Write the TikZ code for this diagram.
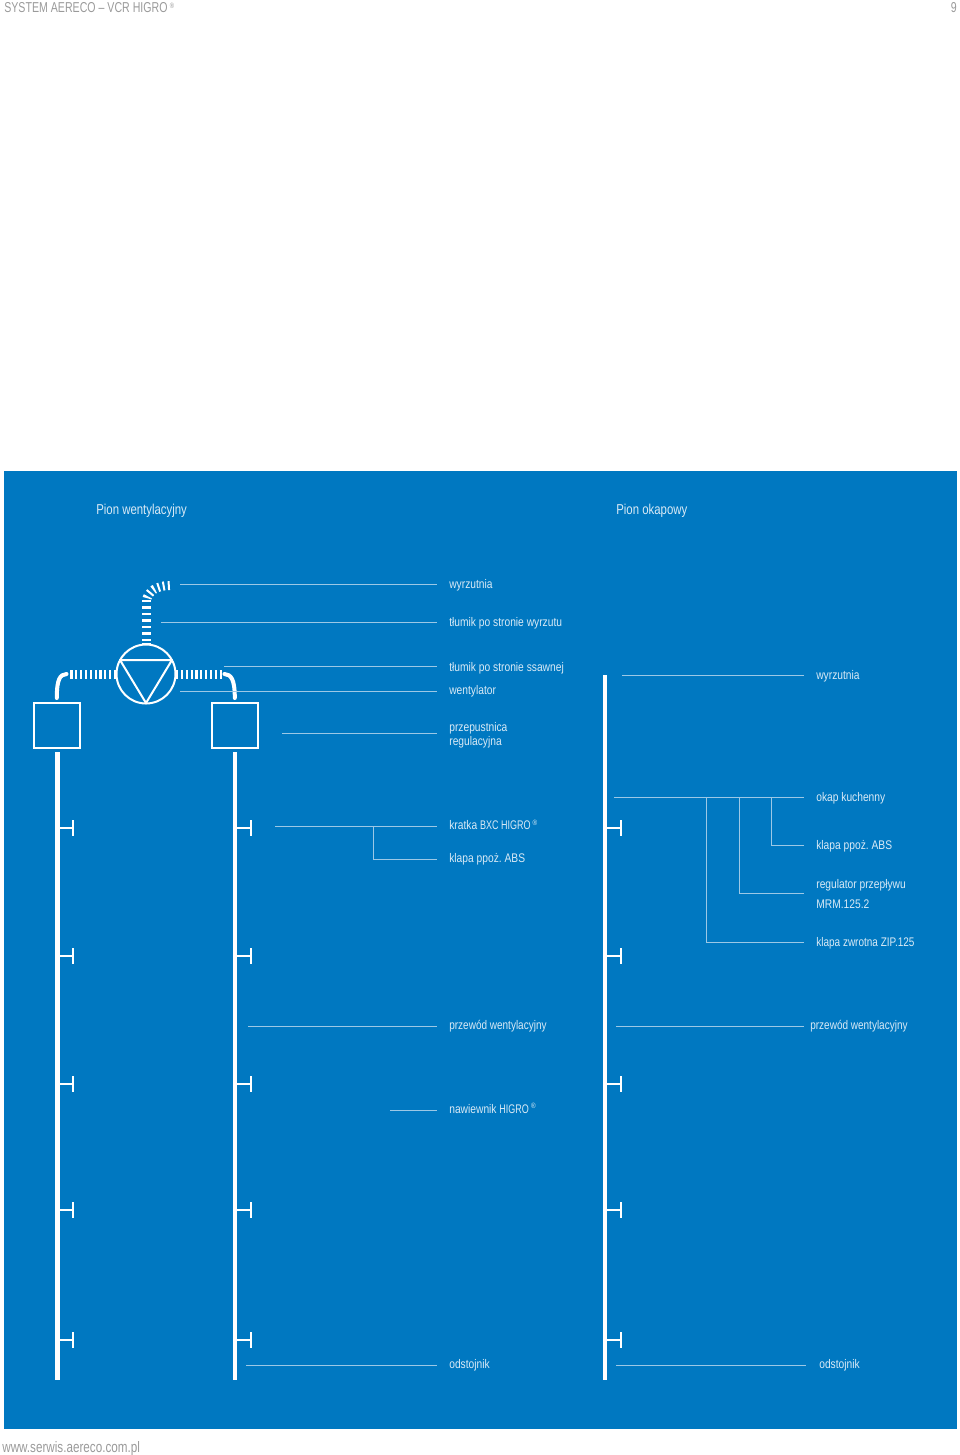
\documentclass[tikz,border=0pt]{standalone}
\usepackage{fontspec}
\setmainfont{Liberation Sans}[FakeStretch=0.82]
\definecolor{bluebg}{HTML}{0078C1}
\definecolor{labeltxt}{HTML}{D9EAF6}
\definecolor{leadercol}{HTML}{9CC8E6}
\definecolor{graytxt}{HTML}{9A9A9A}
\tikzset{
  pipe/.style={draw=white,line width=2.5pt},
  tbar/.style={draw=white,line width=1.2pt},
  stub/.style={draw=white,line width=1.2pt},
  elbow/.style={draw=white,line width=2.4pt,line cap=round},
  silencer/.style={draw=white,line width=5.4pt,dash pattern=on 1.3pt off 1.6pt},
  silencerv/.style={draw=white,line width=5.4pt,dash pattern=on 1.4pt off 2.5pt},
  silencerc/.style={draw=white,line width=5.4pt,dash pattern=on 1.2pt off 1.9pt},
  leader/.style={draw=leadercol,line width=0.6pt},
  lbl/.style={anchor=west,inner sep=0pt,text=labeltxt,font=\fontsize{7.5}{9}\selectfont\frenchspacing,text height=5.4pt,text depth=1.6pt},
  ttl/.style={anchor=west,inner sep=0pt,text=labeltxt,font=\fontsize{8.6}{10}\selectfont\addfontfeature{FakeStretch=0.795},text height=6pt,text depth=1.8pt},
  hdr/.style={inner sep=0pt,text=graytxt,font=\fontsize{8.6}{10}\selectfont\addfontfeature{FakeStretch=0.74},text height=6pt,text depth=1.8pt},
  boxnode/.style={draw=white,line width=1.2pt,minimum size=27.4pt,inner sep=0pt,fill=none},
  fannode/.style={draw=white,line width=1.2pt,circle,minimum size=35.4pt,inner sep=0pt},
}
\newcommand{\regmark}{\,\raisebox{2.6pt}{\fontsize{4.6}{5}\selectfont ®}}
\newcommand{\tightcaps}[1]{{\addfontfeature{FakeStretch=0.72}#1}}
\newcommand{\tighter}[1]{{\addfontfeature{FakeStretch=0.80}#1}}
\begin{document}
\begin{tikzpicture}[x=0.6pt,y=-0.6pt]
\useasboundingbox (0,0) rectangle (960,1455);
\fill[bluebg] (4,471) rectangle (957,1429);

% header / footer
\node[hdr,anchor=west] (head) at (4,9) {SYSTEM AERECO – VCR HIGRO\regmark};
\node[hdr,anchor=east] (pnum) at (957,9) {9};
\node[hdr,anchor=west,font=\fontsize{9.1}{10}\selectfont\addfontfeature{FakeStretch=0.77}] (foot) at (2,1449) {www.serwis.aereco.com.pl};

% titles
\node[ttl] (t1) at (96,510.5) {Pion wentylacyjny};
\node[ttl] (t2) at (616,510.5) {Pion okapowy};

% fan and boxes
\node[fannode] (fan) at (146,674) {};
\node[boxnode] (boxL) at (57,725.5) {};
\node[boxnode] (boxR) at (234.7,725.5) {};
\coordinate (ta) at (120,660);
\coordinate (tb) at (172,660);
\coordinate (tc) at (146,703);
\draw[draw=white,line width=1.2pt,line join=round] (ta) -- (tb) -- (tc) -- cycle;

% silencers
\coordinate (upA) at (146.5,641);
\coordinate (upB) at (146.5,600);
\coordinate (upC) at (169.8,585.5);
\draw[silencerv] (upA) -- (upB);
\draw[silencerc] (upC) .. controls (157,585.5) and (148,591) .. (146.3,601);
\draw[draw=white,line width=5.4pt] (146.5,645) -- (146.5,642.5);
\coordinate (slA) at (116,674);
\coordinate (slB) at (70,674);
\coordinate (srA) at (176,674);
\coordinate (srB) at (223,674);
\draw[silencer] (slA) -- (slB);
\draw[silencer] (srA) -- (srB);

% elbows
\coordinate (elA) at (66.5,674);
\coordinate (elB) at (56.8,698);
\coordinate (erA) at (224.5,674);
\coordinate (erB) at (234.8,698);
\draw[elbow] (elA) .. controls (60,674.5) and (56.8,679) .. (elB);
\draw[elbow] (erA) .. controls (231,674.5) and (234.8,679) .. (erB);

% risers
\coordinate (pLb) at (57.5,1380);
\coordinate (pMb) at (235.3,1380);
\coordinate (pRt) at (605,675);
\coordinate (pRb) at (605,1380);
\draw[pipe] (57.5,752) coordinate (pLt) -- (pLb);
\draw[pipe] (235.3,752) coordinate (pMt) -- (pMb);
\draw[pipe] (pRt) -- (pRb);

% outlets
\foreach \y in {828,956,1084,1210,1340}{
  \draw[stub] (57.5,\y) -- (73,\y);
  \draw[tbar] (73,\y-8) -- (73,\y+8);
  \draw[stub] (235.3,\y) -- (251,\y);
  \draw[tbar] (251,\y-8) -- (251,\y+8);
  \draw[stub] (605,\y) -- (620.5,\y);
  \draw[tbar] (620.5,\y-8) -- (620.5,\y+8);
}

% left labels
\node[lbl] (l1) at (449,585.5) {wyrzutnia};
\node[lbl] (l2) at (449,623.5) {tłumik po stronie wyrzutu};
\node[lbl] (l3) at (449,668) {tłumik po stronie ssawnej};
\node[lbl] (l4) at (449,691) {wentylator};
\node[lbl] (l5a) at (449,728) {przepustnica};
\node[lbl] (l5b) at (449,742.5) {regulacyjna};
\node[lbl] (l6) at (449,826.5) {kratka \tightcaps{BXC HIGRO}\regmark};
\node[lbl] (l7) at (449,859) {klapa ppoż. ABS};
\node[lbl] (l8) at (449,1026.5) {\tighter{przewód wentylacyjny}};
\node[lbl] (l9) at (449,1110) {nawiewnik \tightcaps{HIGRO}\regmark};
\node[lbl] (l10) at (449,1365) {odstojnik};

% right labels
\node[lbl] (r1) at (816,676) {wyrzutnia};
\node[lbl] (r2) at (816,798) {okap kuchenny};
\node[lbl] (r3) at (816,846.5) {klapa ppoż. ABS};
\node[lbl] (r4a) at (816,885) {regulator przepływu};
\node[lbl] (r4b) at (816,905) {MRM.125.2};
\node[lbl] (r5) at (816,943) {\tighter{klapa zwrotna ZIP.125}};
\node[lbl] (r6) at (810,1026.5) {\tighter{przewód wentylacyjny}};
\node[lbl] (r7) at (819,1365) {odstojnik};

% left leaders
\coordinate (e1) at (437,584);
\coordinate (e2) at (437,622);
\coordinate (e3) at (437,666);
\coordinate (e4) at (437,691);
\coordinate (e5) at (437,733);
\coordinate (e6) at (437,826);
\coordinate (e7) at (437,859);
\coordinate (e8) at (437,1026);
\coordinate (e9) at (437,1110);
\coordinate (e10) at (437,1365);
\draw[leader] (180,584) coordinate (s1) -- (e1);
\draw[leader] (161,622) coordinate (s2) -- (e2);
\draw[leader] (224,666) coordinate (s3) -- (e3);
\draw[leader] (180,691) coordinate (s4) -- (e4);
\draw[leader] (282,733) coordinate (s5) -- (e5);
\draw[leader] (275,826) coordinate (s6) -- (e6);
\draw[leader] (373,826) coordinate (s7) |- (e7);
\draw[leader] (248,1026) coordinate (s8) -- (e8);
\draw[leader] (390,1110) coordinate (s9) -- (e9);
\draw[leader] (246,1365) coordinate (s10) -- (e10);

% right leaders
\coordinate (f1) at (804,675);
\coordinate (f2) at (804,797);
\coordinate (f3) at (804,845);
\coordinate (f4) at (804,893);
\coordinate (f5) at (804,942);
\coordinate (f6) at (804,1026);
\coordinate (f7) at (806,1365);
\draw[leader] (622,675) coordinate (g1) -- (f1);
\draw[leader] (614,797) coordinate (g2) -- (f2);
\draw[leader] (771,797) coordinate (g3) |- (f3);
\draw[leader] (739,797) coordinate (g4) |- (f4);
\draw[leader] (706,797) coordinate (g5) |- (f5);
\draw[leader] (616,1026) coordinate (g6) -- (f6);
\draw[leader] (616,1365) coordinate (g7) -- (f7);
\end{tikzpicture}
\end{document}
